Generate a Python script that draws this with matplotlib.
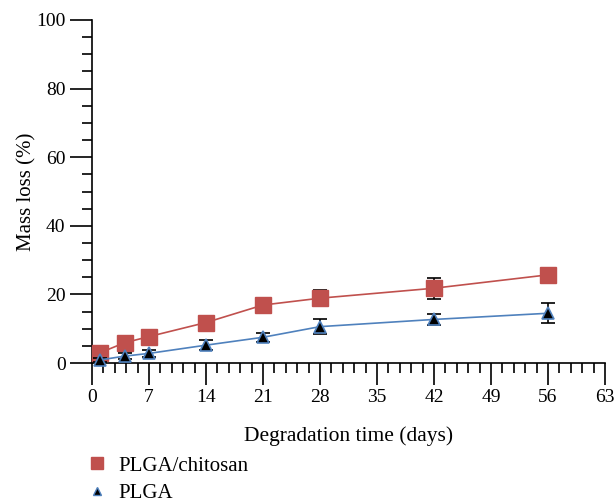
import numpy as np
import matplotlib
matplotlib.use("Agg")
import matplotlib.pyplot as plt
from matplotlib.ticker import MultipleLocator
from matplotlib.lines import Line2D

plt.rcParams['font.family'] = ['Liberation Serif', 'DejaVu Serif']

days = [1, 4, 7, 14, 21, 28, 42, 56]
chitosan_loss = [3.0, 5.9, 7.7, 11.8, 16.9, 18.9, 21.8, 25.7]
chitosan_err = [0.8, 0.8, 0.8, 0.9, 1.0, 2.4, 3.1, 1.0]
plga_loss = [0.9, 2.0, 2.8, 5.2, 7.5, 10.6, 12.7, 14.5]
plga_err = [0.5, 0.9, 1.0, 1.4, 1.3, 2.1, 1.5, 2.9]

red = '#C0504D'
blue = '#4F81BD'

fig = plt.figure(figsize=(6.16, 5.04), dpi=100)
ax = fig.add_axes([92 / 616, 1 - 363 / 504, (605 - 92) / 616, (363 - 20) / 504])

ax.errorbar(days, chitosan_loss, yerr=chitosan_err, fmt='none', ecolor='black',
            elinewidth=1.2, capsize=5, capthick=1.2, zorder=2, clip_on=False)
ax.plot(days, chitosan_loss, color=red, lw=1.2, marker='s', markersize=11,
        markerfacecolor=red, markeredgecolor=red, zorder=3, clip_on=False)

ax.errorbar(days, plga_loss, yerr=plga_err, fmt='none', ecolor='black',
            elinewidth=1.2, capsize=5, capthick=1.2, zorder=4, clip_on=False)
ax.plot(days, plga_loss, color=blue, lw=1.2, marker='^', markersize=9,
        markerfacecolor='black', markeredgecolor=blue, markeredgewidth=1.2,
        zorder=5, clip_on=False)

ax.set_xlim(0, 63)
ax.set_ylim(0, 100)
ax.xaxis.set_major_locator(MultipleLocator(7))
ax.xaxis.set_minor_locator(MultipleLocator(1.4))
ax.yaxis.set_major_locator(MultipleLocator(20))
ax.yaxis.set_minor_locator(MultipleLocator(5))
ax.tick_params(which='major', length=16, width=1.2, direction='out', labelsize=14, pad=3)
ax.tick_params(which='minor', length=7, width=1.2, direction='out')
for s in ['top', 'right']:
    ax.spines[s].set_visible(False)
for s in ['left', 'bottom']:
    ax.spines[s].set_linewidth(1.2)

ax.set_xlabel('Degradation time (days)', fontsize=15.5, labelpad=14)
ax.set_ylabel('Mass loss (%)', fontsize=15, labelpad=0)

handles = [
    Line2D([], [], ls='none', marker='s', markersize=8, color=red),
    Line2D([], [], ls='none', marker='^', markersize=6, markerfacecolor='black',
           markeredgecolor=blue, markeredgewidth=1.0),
]
fig.legend(handles, ['PLGA/chitosan', 'PLGA'], loc='upper left',
           bbox_to_anchor=(87 / 616, 1 - 456 / 504), frameon=False,
           fontsize=15, handlelength=1.0, handletextpad=0.5, labelspacing=0.4,
           borderpad=0, borderaxespad=0)

fig.savefig('out.png', dpi=100)
